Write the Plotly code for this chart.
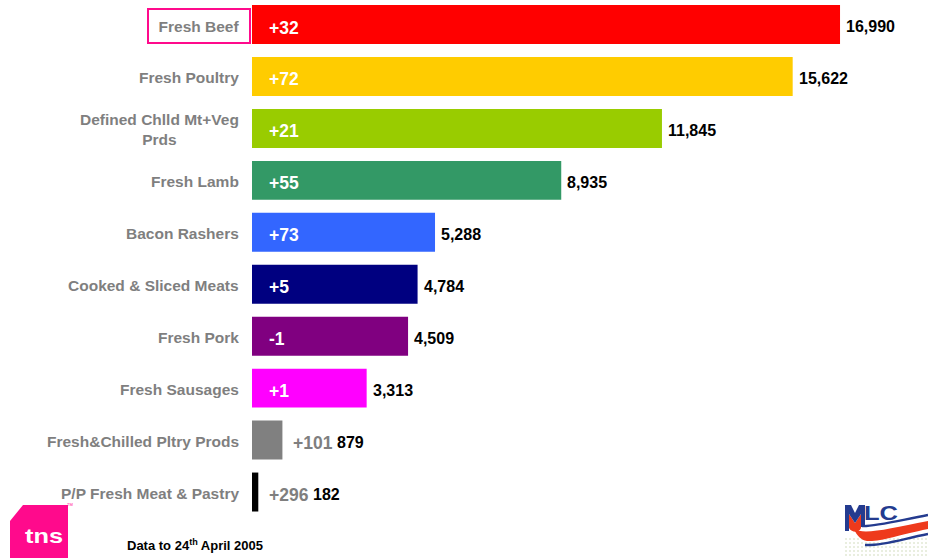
import base64
import plotly.graph_objects as go

# Category sales (thousands) and change versus year ago
categories = [
    "Fresh Beef",
    "Fresh Poultry",
    "Defined Chlld Mt+Veg<br>Prds",
    "Fresh Lamb",
    "Bacon Rashers",
    "Cooked & Sliced Meats",
    "Fresh Pork",
    "Fresh Sausages",
    "Fresh&Chilled Pltry Prods",
    "P/P Fresh Meat & Pastry",
]
values = [16990, 15622, 11845, 8935, 5288, 4784, 4509, 3313, 879, 182]
changes = ["+32", "+72", "+21", "+55", "+73", "+5", "-1", "+1", "+101", "+296"]
bar_colors = [
    "#FF0000", "#FFCC00", "#99CC00", "#339966", "#3366FF",
    "#000080", "#800080", "#FF00FF", "#808080", "#000000",
]
highlight = "Fresh Beef"
footnote = "Data to 24<sup>th</sup> April 2005"

FONT = "Liberation Sans, Arial, sans-serif"
GREY = "#7f7f7f"

# figure geometry (pixels)
W, H = 928, 558
ML, MR, MT, MB = 252, 30, 0, 40
PW, PH = W - ML - MR, H - MT - MB


def to_paper(px, py):
    return (px - ML) / PW, (H - MB - py) / PH


fig = go.Figure(
    go.Bar(
        y=categories,
        x=values,
        orientation="h",
        marker=dict(color=bar_colors, line=dict(width=0)),
        hoverinfo="skip",
    )
)

annotations = []
for cat, val, chg in zip(categories, values, changes):
    narrow = val < 2000
    # change label: inside the bar, or beside it when the bar is too short
    annotations.append(dict(
        x=val if narrow else 0, y=cat, xref="x", yref="y",
        text=chg, showarrow=False, xanchor="left", yanchor="middle",
        xshift=9 if narrow else 15, yshift=-3,
        font=dict(family=FONT, size=17.5, color=GREY if narrow else "white",
                  weight="bold"),
    ))
    # total value after the bar end
    annotations.append(dict(
        x=val, y=cat, xref="x", yref="y",
        text=f"{val:,}", showarrow=False, xanchor="left", yanchor="middle",
        xshift=53 if narrow else 4, yshift=-2,
        font=dict(family=FONT, size=16, color="black", weight="bold"),
    ))
    # category label left of the axis
    boxed = cat == highlight
    lab = dict(
        x=0, y=cat, xref="paper", yref="y",
        text=cat, showarrow=False, xanchor="right", yanchor="middle",
        align="center", xshift=-1 if boxed else -11, yshift=-1,
        font=dict(family=FONT, size=15.5, color=GREY, weight="bold"),
    )
    if boxed:
        lab.update(width=96, height=28, borderpad=2, borderwidth=2,
                   bordercolor="#ff0a8c", bgcolor="white")
    annotations.append(lab)

fx, fy = to_paper(125, 545)
annotations.append(dict(
    x=fx, y=fy, xref="paper", yref="paper", text=footnote, showarrow=False,
    xanchor="left", yanchor="middle",
    font=dict(family=FONT, size=13, color="black", weight="bold"),
))

# logos drawn as inline SVG
tns_svg = """<svg xmlns='http://www.w3.org/2000/svg' width='80' height='60' viewBox='0 0 80 60'>
<polygon points='23,7 68,7 68,60 10,60 10,23' fill='#ff0a8c'/>
<text x='25' y='45' font-family='Liberation Sans, Arial' font-weight='bold' font-size='21' fill='white'
 textLength='38' lengthAdjust='spacingAndGlyphs'>tns</text>
<text x='67' y='8' font-family='Liberation Sans, Arial' font-size='4' fill='#ff0a8c'>TM</text>
</svg>"""

dots = "".join(
    f"<circle cx='{x}' cy='{y}' r='1' fill='#e2e8d4'/>"
    for y in range(41, 60, 4) for x in range(6, 88, 4)
)
mlc_svg = f"""<svg xmlns='http://www.w3.org/2000/svg' width='88' height='60' viewBox='0 0 88 60'>
{dots}
<path d='M22,28 C32,29 52,24 88,17' stroke='#243b8f' stroke-width='2.4' fill='none'/>
<path d='M14,31 C24,37 48,31 88,23 L88,31 C58,37 40,44 27,43 C21,42 17,38 14,31 Z' fill='#ee3a1c'/>
<path d='M25,47 C42,48 62,41 88,36' stroke='#243b8f' stroke-width='2.4' fill='none'/>
<path d='M9,16 L15,25 L21,16 L21,30 C19,35 12,35 9,30 Z' fill='#ee3a1c'/>
<path d='M5,7 L11,7 L15,15 L19,7 L25,7 L25,29 L21,29 L21,16 L15,25 L9,16 L9,33 L5,33 Z' fill='#243b8f'/>
<text x='24' y='22' font-family='Liberation Sans, Arial' font-weight='bold' font-size='21' fill='#243b8f'
 textLength='34' lengthAdjust='spacingAndGlyphs'>LC</text>
</svg>"""


def svg_uri(s):
    return "data:image/svg+xml;base64," + base64.b64encode(s.encode()).decode()


images = []
for svg, (px, py, w, h) in [(tns_svg, (0, 498, 80, 60)), (mlc_svg, (840, 498, 88, 60))]:
    ix, iy = to_paper(px, py)
    images.append(dict(
        source=svg_uri(svg), xref="paper", yref="paper", x=ix, y=iy,
        sizex=w / PW, sizey=h / PH, xanchor="left", yanchor="top",
        sizing="stretch", layer="above",
    ))

fig.update_layout(
    width=W, height=H,
    margin=dict(l=ML, r=MR, t=MT, b=MB, pad=0),
    paper_bgcolor="white", plot_bgcolor="white",
    bargap=0.25,
    showlegend=False,
    xaxis=dict(visible=False, range=[0, 18665], fixedrange=True),
    yaxis=dict(showticklabels=False, showgrid=False, zeroline=False,
               showline=False, ticks="", range=[9.5, -0.472],
               categoryorder="array", categoryarray=categories),
    annotations=annotations,
    images=images,
)

fig.write_html("out.html", config={"displayModeBar": False})
